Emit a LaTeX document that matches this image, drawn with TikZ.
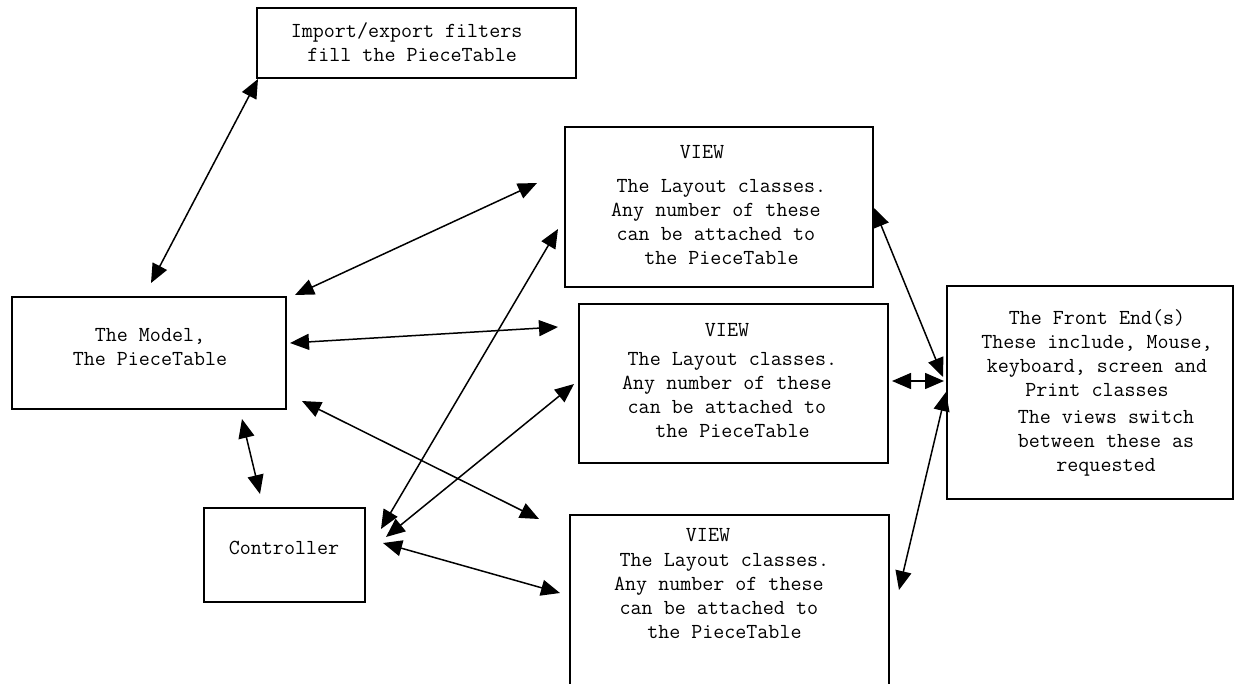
\documentclass[tikz,border=0pt]{standalone}
\usepackage{fontspec}
\usetikzlibrary{arrows.meta}
\begin{document}
\begin{tikzpicture}[x=1pt,y=-1pt,
  box/.style={draw, line width=2pt, inner sep=0pt, outer sep=0pt},
  txt/.style={font=\fontsize{21.4}{24}\selectfont\ttfamily, align=center, inner sep=0pt},
  link/.style={line width=1.5pt, {Triangle[length=19pt,width=16pt]}-{Triangle[length=19pt,width=16pt]}}]
\clip (0,0) rectangle (1237,683);
\fill[white] (0,0) rectangle (1237,683);
% boxes
\node[box, minimum width=319, minimum height=70]  (imp)   at (416.5,43)   {};
\node[box, minimum width=308, minimum height=160] (view1) at (719,207)    {};
\node[box, minimum width=274, minimum height=112] (model) at (149,353)    {};
\node[box, minimum width=309, minimum height=159] (view2) at (733.5,383.5){};
\node[box, minimum width=286, minimum height=213] (fe)    at (1090,392.5) {};
\node[box, minimum width=161, minimum height=94]  (ctrl)  at (284.5,555)  {};
\node[box, minimum width=319, minimum height=185] (view3) at (729.5,607.5){};
% texts
\node[txt] (impT) at (406.6,42.5) {Import/export filters\\\hphantom{x}fill the PieceTable};
\node[txt] (v1head) at (702,152) {VIEW};
\node[txt] (v1T) at (721.4,222) {The Layout classes.\\Any number of these\hphantom{x}\\can be attached to\hphantom{x}\\the PieceTable};
\node[txt] (v2head) at (727,330) {VIEW};
\node[txt] (v2T) at (732.4,395.5) {The Layout classes.\\Any number of these\hphantom{x}\\can be attached to\hphantom{x}\\the PieceTable};
\node[txt] (v3head) at (708,535) {VIEW};
\node[txt] (v3T) at (724.4,596) {The Layout classes.\\Any number of these\hphantom{x}\\can be attached to\hphantom{x}\\the PieceTable};
\node[txt] (modelT) at (150,347.5) {The Model,\\The PieceTable};
\node[txt] (ctrlT) at (284,548) {Controller};
\node[txt] (feT1) at (1097,353) {The Front End(s)\\These include, Mouse,\\keyboard, screen and\\Print classes};
\node[txt] (feT2) at (1106,443) {The views switch\\between these as\\requested};
% connectors
\draw[link] ([shift={(2,-14)}]model.north) -- ([shift={(1,1)}]imp.south west);
\draw[link] ([shift={(9,-2)}]model.north east) -- ([shift={(-28,-24)}]view1.west);
\draw[link] ([shift={(4,-10)}]model.east) -- ([shift={(-21,23)}]view2.north west);
\draw[link] ([shift={(16,-8)}]model.south east) -- ([shift={(-31,4)}]view3.north west);
\draw[link] ([shift={(93,10)}]model.south) -- ([shift={(-24.5,-14)}]ctrl.north);
\draw[link] ([shift={(16,21)}]ctrl.north east) -- ([shift={(-7,22)}]view1.west);
\draw[link] ([shift={(21,29)}]ctrl.north east) -- ([shift={(-5,0.5)}]view2.west);
\draw[link] ([shift={(18,35)}]ctrl.north east) -- ([shift={(-10,78)}]view3.north west);
\draw[link] ([shift={(1,1)}]view1.east) -- ([shift={(-4,-15.5)}]fe.west);
\draw[link] ([shift={(4,-2.5)}]view2.east) -- ([shift={(-3,-11.5)}]fe.west);
\draw[link] ([shift={(10,75)}]view3.north east) -- ([shift={(-1,-0.5)}]fe.west);
\end{tikzpicture}
\end{document}
